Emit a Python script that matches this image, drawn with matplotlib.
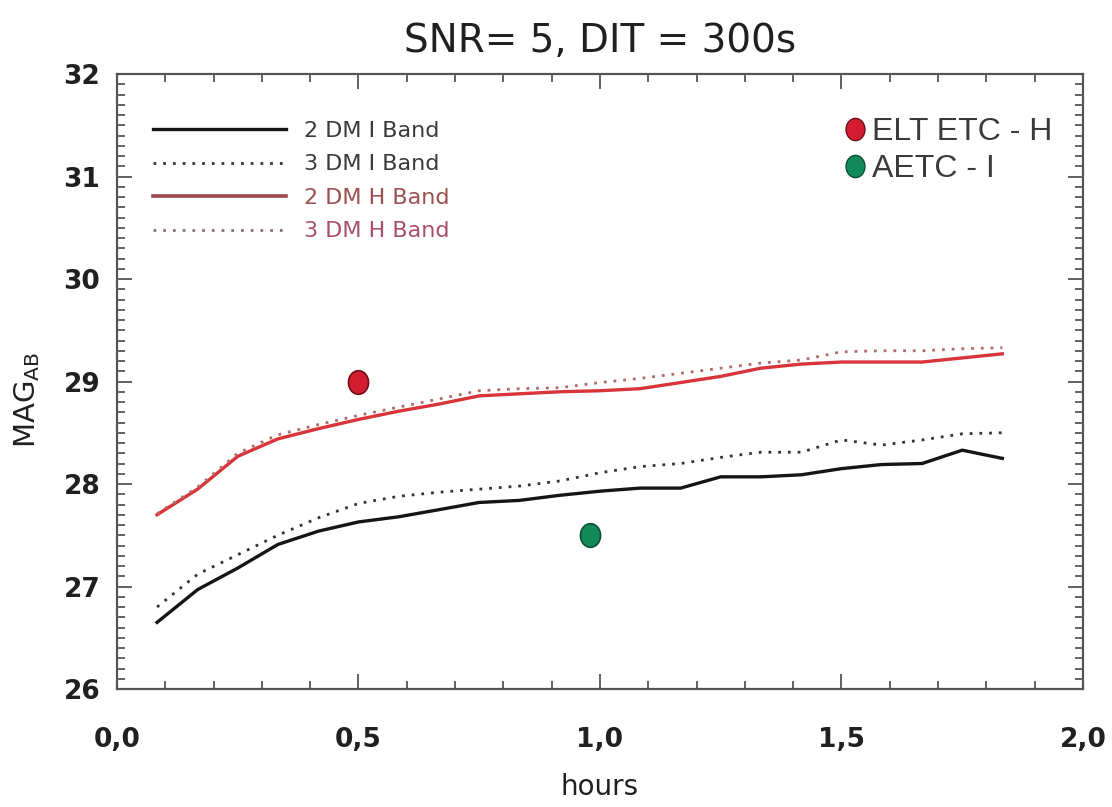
import numpy as np
import matplotlib
matplotlib.use("Agg")
import matplotlib.pyplot as plt
from matplotlib.lines import Line2D
from matplotlib.path import Path

# Integration time in hours
hours = [0.083, 0.167, 0.250, 0.333, 0.417, 0.500, 0.583, 0.667, 0.750, 0.833, 0.917,
         1.000, 1.083, 1.167, 1.250, 1.333, 1.417, 1.500, 1.583, 1.667, 1.750, 1.833]

# Limiting AB magnitude for each configuration
mag_2dm_i = [26.65, 26.97, 27.18, 27.41, 27.54, 27.63, 27.68, 27.75, 27.82, 27.84, 27.89,
             27.93, 27.96, 27.96, 28.07, 28.07, 28.09, 28.15, 28.19, 28.20, 28.33, 28.25]
mag_3dm_i = [26.80, 27.12, 27.31, 27.50, 27.67, 27.81, 27.88, 27.92, 27.95, 27.98, 28.03,
             28.11, 28.17, 28.20, 28.26, 28.31, 28.31, 28.43, 28.38, 28.43, 28.49, 28.50]
mag_2dm_h = [27.70, 27.95, 28.27, 28.44, 28.54, 28.63, 28.71, 28.78, 28.86, 28.88, 28.90,
             28.91, 28.93, 28.99, 29.05, 29.13, 29.17, 29.19, 29.19, 29.19, 29.23, 29.27]
mag_3dm_h = [27.71, 27.97, 28.30, 28.48, 28.58, 28.67, 28.75, 28.83, 28.91, 28.93, 28.94,
             28.99, 29.03, 29.08, 29.13, 29.18, 29.21, 29.29, 29.30, 29.30, 29.32, 29.33]

series_labels = ["2 DM I Band", "3 DM I Band", "2 DM H Band", "3 DM H Band"]

# Single-point estimates from the exposure time calculators
etc_labels = ["ELT ETC - H", "AETC - I"]
etc_hours = [0.50, 0.98]
etc_mag = [29.0, 27.5]

x_ticks = [0.0, 0.5, 1.0, 1.5, 2.0]
x_tick_labels = ["0,0", "0,5", "1,0", "1,5", "2,0"]
y_ticks = [26, 27, 28, 29, 30, 31, 32]

# slightly tall elliptical dot
th = np.linspace(0, 2 * np.pi, 80)
oval = Path(np.column_stack([0.85 * np.cos(th), np.sin(th)]), closed=True)

fig = plt.figure(figsize=(11.12, 8.07), dpi=100)
ax = fig.add_axes([0.1052, 0.1462, 0.8687, 0.7621])

black = "#151515"
red = "#d8343a"
red_dot = "#b06a6a"

ax.plot(hours, mag_2dm_i, color=black, lw=2.4, solid_joinstyle="round")
ax.plot(hours, mag_3dm_i, color="#333333", lw=2.0, linestyle=(0, (1, 2.5)))
ax.plot(hours, mag_2dm_h, color=red, lw=2.4, solid_joinstyle="round")
ax.plot(hours, mag_3dm_h, color=red_dot, lw=2.0, linestyle=(0, (1, 2.5)))

ax.plot(etc_hours[0], etc_mag[0], linestyle="none", marker=oval, markersize=17,
        markerfacecolor="#d41c30", markeredgecolor="#6e1018", markeredgewidth=1.2)
ax.plot(etc_hours[1], etc_mag[1], linestyle="none", marker=oval, markersize=17,
        markerfacecolor="#128a5a", markeredgecolor="#0b4f35", markeredgewidth=1.2)

ax.set_xlim(0.0, 2.0)
ax.set_ylim(26, 32)
ax.set_xticks(x_ticks)
ax.set_xticklabels(x_tick_labels, fontweight="bold")
ax.set_yticks(y_ticks)
ax.set_yticklabels([str(v) for v in y_ticks], fontweight="bold")
ax.xaxis.set_minor_locator(matplotlib.ticker.MultipleLocator(0.1))
ax.yaxis.set_minor_locator(matplotlib.ticker.MultipleLocator(0.1))

axis_col = "#555555"
for sp in ax.spines.values():
    sp.set_color(axis_col)
    sp.set_linewidth(1.6)
ax.tick_params(which="both", direction="in", top=True, right=True, color=axis_col, width=1.3)
ax.tick_params(which="major", length=11)
ax.tick_params(which="minor", length=6)
ax.tick_params(axis="x", which="major", pad=27, labelsize=19, labelcolor="#202020")
ax.tick_params(axis="y", which="major", pad=12, labelsize=19, labelcolor="#202020")

ax.set_xlabel("hours", fontsize=20, color="#202020")
ax.xaxis.set_label_coords(0.5, -0.137)
ax.set_ylabel(r"MAG$_{\rm AB}$", fontsize=21, color="#202020")
ax.yaxis.set_label_coords(-0.078, 0.47)
ax.set_title("SNR= 5, DIT = 300s", fontsize=28, color="#202020", pad=16)

# line key, upper left
handles = [
    Line2D([], [], color=black, lw=2.4),
    Line2D([], [], color="#333333", lw=2.0, linestyle=(0, (1, 2.5))),
    Line2D([], [], color="#a04848", lw=2.6),
    Line2D([], [], color="#8a7070", lw=2.0, linestyle=(0, (1, 2.5))),
]
leg1 = ax.legend(handles, series_labels, loc="upper left", bbox_to_anchor=(0.037, 0.924),
                 frameon=False, fontsize=16, handlelength=6.0, handletextpad=0.8,
                 labelspacing=0.61, borderaxespad=0, borderpad=0)
for t, c in zip(leg1.get_texts(), ["#3a3a3a", "#3a3a3a", "#9c5050", "#a8506a"]):
    t.set_color(c)
ax.add_artist(leg1)

# calculator key, upper right
dot_handles = [
    Line2D([], [], linestyle="none", marker=oval, markersize=16,
           markerfacecolor="#d41c30", markeredgecolor="#6e1018", markeredgewidth=1.0),
    Line2D([], [], linestyle="none", marker=oval, markersize=16,
           markerfacecolor="#128a5a", markeredgecolor="#0b4f35", markeredgewidth=1.0),
]
leg2 = ax.legend(dot_handles, etc_labels, loc="upper left", bbox_to_anchor=(0.7547, 0.9295),
                 frameon=False, prop={"family": "Liberation Sans", "size": 23},
                 handlelength=0.58, handletextpad=0.24, labelspacing=0.2,
                 borderaxespad=0, borderpad=0)
for t in leg2.get_texts():
    t.set_color("#3a3a3a")

fig.savefig("out.png", dpi=100)
